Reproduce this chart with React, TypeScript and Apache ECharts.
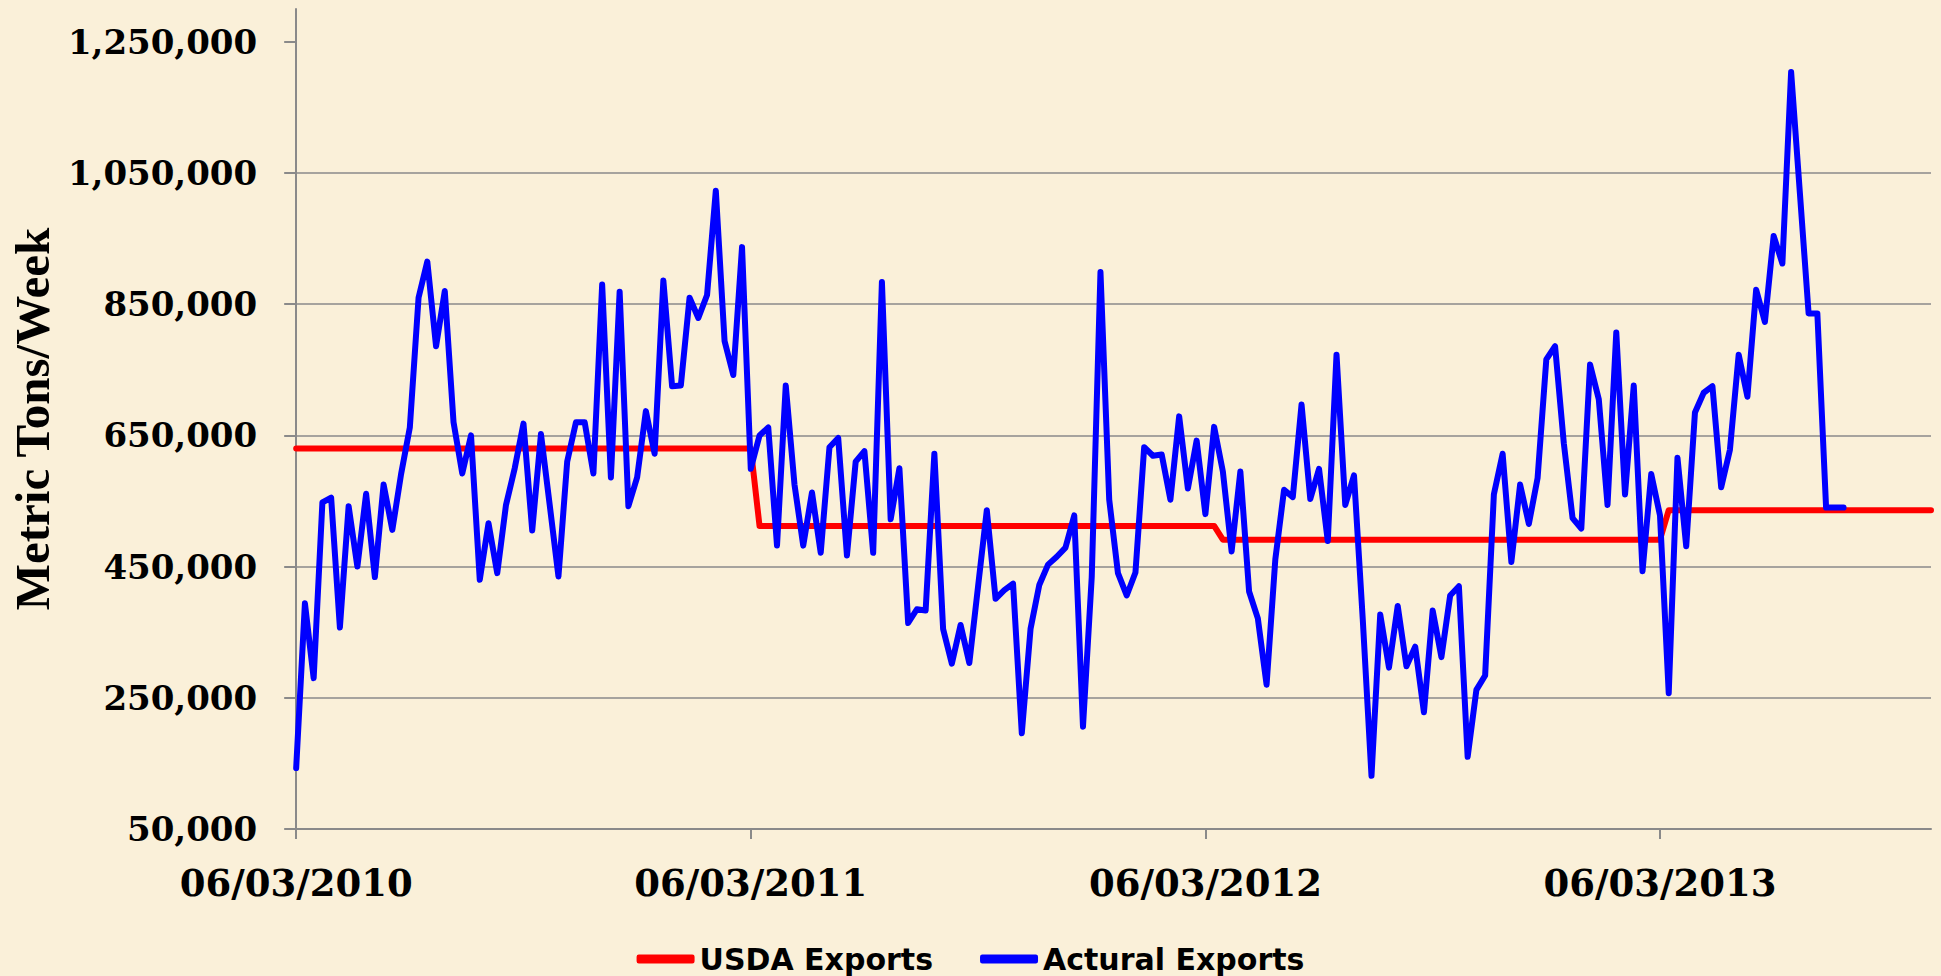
import React, { useEffect, useRef } from "react";
import * as echarts from "echarts";

// ---- data ----
const weekCount = 188;
const categories: string[] = [];
{
  const start = new Date(Date.UTC(2010, 5, 3));
  for (let i = 0; i < weekCount; i++) {
    const d = new Date(start.getTime() + i * 7 * 86400000);
    const mm = String(d.getUTCMonth() + 1).padStart(2, "0");
    const dd = String(d.getUTCDate()).padStart(2, "0");
    categories.push(`${mm}/${dd}/${d.getUTCFullYear()}`);
  }
}
const tickLabels = ["06/03/2010", "06/03/2011", "06/03/2012", "06/03/2013"];
const tickEvery = 52;
const yTicks = [50000, 250000, 450000, 650000, 850000, 1050000, 1250000];

// USDA projection: level and number of weeks it holds
const usdaLevels = [630000, 512000, 491000, 536000];
const usdaWeeks = [53, 53, 51, 31];

const actualExports = [
  143000, 394000, 280000, 548000, 555000, 357000, 542000, 450000, 561000, 434000,
  575000, 506000, 591000, 662000, 860000, 915000, 786000, 870000, 670000, 592000,
  650000, 430000, 516000, 440000, 544000, 600000, 668000, 505000, 652000, 544000,
  435000, 610000, 670000, 670000, 592000, 880000, 586000, 869000, 542000, 586000,
  687000, 622000, 886000, 725000, 726000, 860000, 829000, 864000, 1023000, 794000,
  742000, 937000, 599000, 650000, 662000, 482000, 726000, 575000, 482000, 563000,
  471000, 632000, 646000, 467000, 610000, 626000, 471000, 884000, 522000, 600000,
  364000, 385000, 383000, 622000, 355000, 302000, 361000, 303000, 420000, 536000,
  401000, 414000, 424000, 196000, 355000, 422000, 453000, 465000, 479000, 528000,
  206000, 434000, 899000, 552000, 440000, 406000, 441000, 632000, 619000, 621000,
  552000, 679000, 569000, 642000, 530000, 663000, 595000, 473000, 595000, 412000,
  371000, 270000, 461000, 567000, 556000, 697000, 553000, 599000, 489000, 773000,
  544000, 589000, 370000, 131000, 377000, 296000, 390000, 298000, 328000, 228000,
  383000, 312000, 406000, 420000, 160000, 262000, 284000, 560000, 622000, 457000,
  575000, 515000, 585000, 766000, 786000, 638000, 524000, 508000, 758000, 705000,
  544000, 807000, 560000, 726000, 443000, 591000, 528000, 257000, 616000, 481000,
  685000, 715000, 725000, 571000, 628000, 773000, 709000, 872000, 823000, 954000,
  912000, 1204000, 1020000, 836000, 836000, 540000, 540000, 540000,
];

const usdaExports: number[] = [];
usdaLevels.forEach((lvl, k) => {
  for (let j = 0; j < usdaWeeks[k]; j++) usdaExports.push(lvl);
});

const BG = "#FAF0D9";
const GRID = "#8a8a8a";

export default function App() {
  const ref = useRef<HTMLDivElement>(null);
  useEffect(() => {
    document.body.style.margin = "0";
    document.body.style.background = BG;
    const chart = echarts.init(ref.current!, undefined, { renderer: "svg" });
    chart.setOption({
      animation: false,
      backgroundColor: BG,
      grid: { left: 296, right: 10, top: 9, bottom: 147, containLabel: false },
      legend: {
        data: ["USDA Exports", "Actural Exports"],
        left: "center",
        top: 939,
        icon: "roundRect",
        itemWidth: 58,
        itemHeight: 9,
        itemGap: 47,
        textStyle: { fontFamily: "DejaVu Sans", fontWeight: "bold", fontSize: 30, color: "#000" },
      },
      xAxis: {
        type: "category",
        data: categories,
        boundaryGap: false,
        axisLine: { show: true, onZero: false, lineStyle: { color: GRID, width: 2 } },
        axisTick: { show: true, interval: tickEvery - 1, length: 10, lineStyle: { color: GRID, width: 2 } },
        axisLabel: {
          interval: tickEvery - 1,
          formatter: (_v: string, idx: number) => (idx % tickEvery === 0 ? tickLabels[idx / tickEvery] ?? "" : ""),
          fontFamily: "DejaVu Serif",
          fontWeight: "bold",
          fontSize: 37,
          color: "#000",
          margin: 35,
        },
        splitLine: { show: false },
      },
      yAxis: {
        type: "value",
        min: 50000,
        max: 1300000,
        interval: 200000,
        name: "Metric Tons/Week",
        nameLocation: "middle",
        nameGap: 238,
        nameTextStyle: { fontFamily: "Liberation Serif", fontWeight: "bold", fontSize: 49, color: "#000" },
        axisLine: { show: true, lineStyle: { color: GRID, width: 2 } },
        axisTick: { show: true, length: 12, customValues: yTicks, lineStyle: { color: GRID, width: 2 } },
        axisLabel: {
          customValues: yTicks,
          formatter: (v: number) => v.toLocaleString("en-US"),
          fontFamily: "DejaVu Serif",
          fontWeight: "bold",
          fontSize: 34,
          color: "#000",
          margin: 39,
        },
        splitLine: { show: true, showMaxLine: false, lineStyle: { color: GRID, width: 1.5 } },
      },
      series: [
        {
          name: "USDA Exports",
          type: "line",
          data: usdaExports,
          showSymbol: false,
          color: "#FF0000",
          lineStyle: { width: 6, color: "#FF0000", cap: "round", join: "round" },
        },
        {
          name: "Actural Exports",
          type: "line",
          data: actualExports,
          showSymbol: false,
          color: "#0000FF",
          lineStyle: { width: 6, color: "#0000FF", cap: "round", join: "round" },
        },
      ],
    });
    return () => chart.dispose();
  }, []);
  return (
    <div
      ref={ref}
      style={{ position: "fixed", left: 0, top: 0, width: "1941px", height: "976px", background: BG }}
    />
  );
}
